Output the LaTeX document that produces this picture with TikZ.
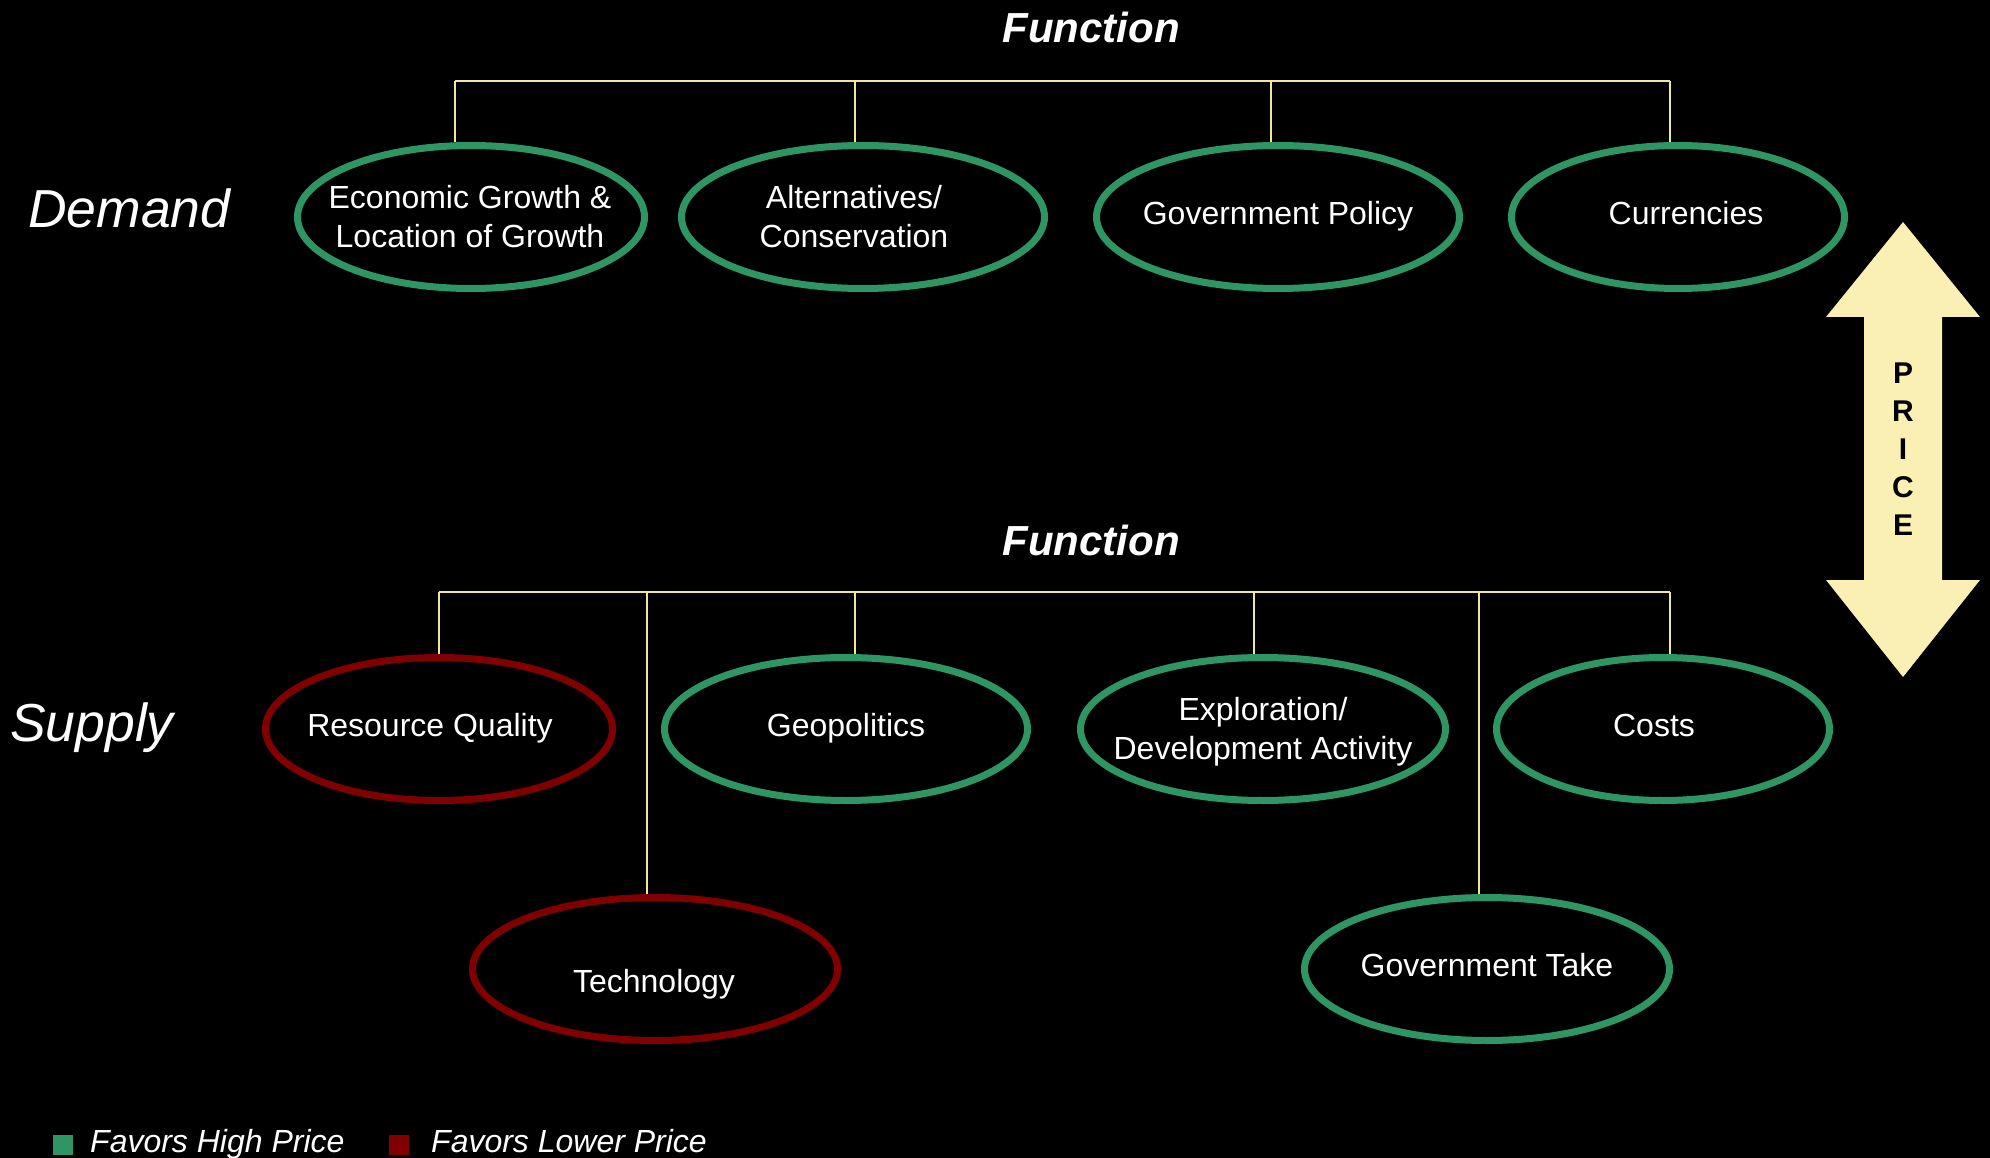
\documentclass[tikz,border=0pt]{standalone}
\usepackage{fontspec}
\setmainfont{Liberation Sans}
\usetikzlibrary{shapes.geometric}

\definecolor{favhigh}{RGB}{46,150,98}
\definecolor{favlow}{RGB}{128,0,0}
\definecolor{linkline}{RGB}{240,230,160}
\definecolor{pricefill}{RGB}{250,240,180}

\begin{document}
\begin{tikzpicture}[x=1pt,y=-1pt,
    factor/.style={ellipse,draw,line width=7pt,inner sep=0pt,
        minimum width=347pt,minimum height=143pt},
    highfactor/.style={factor,draw=favhigh},
    lowfactor/.style={factor,draw=favlow},
    lbl/.style={text=white,inner sep=0pt,align=center,font=\fontsize{32}{39}\selectfont},
    link/.style={draw=linkline,line width=2pt},
    side/.style={text=white,inner sep=0pt,anchor=base west,font=\fontsize{53.5}{60}\selectfont\itshape},
    func/.style={text=white,inner sep=0pt,anchor=base,font=\fontsize{42}{50}\selectfont\bfseries\itshape},
    keybox/.style={minimum size=20pt,inner sep=0pt},
    keytext/.style={text=white,inner sep=0pt,anchor=base west,font=\fontsize{32}{38}\selectfont\itshape},
    ]
    \fill[black] (0,0) rectangle (1990,1158);
    \useasboundingbox (0,0) rectangle (1990,1158);

    % demand side
    \node[side] (demand) at (28,228) {Demand};
    \node[func] (dfunc) at (1091,43) {Function};
    \node[highfactor] (econ) at (471,217) {};
    \node[highfactor,minimum width=363pt] (alt) at (863,217) {};
    \node[highfactor,minimum width=363pt] (policy) at (1278,217) {};
    \node[highfactor,minimum width=333pt] (curr) at (1678,217) {};
    \node[lbl] (econtext) at (470,217) {Economic Growth \&\\Location of Growth};
    \node[lbl] (alttext) at (854,217) {Alternatives/\\Conservation};
    \node[lbl] (policytext) at (1278,216) {Government Policy};
    \node[lbl] (currtext) at (1686,213) {Currencies};

    \coordinate (d1) at (455,81);
    \coordinate (d2) at (855,81);
    \coordinate (d3) at (1271,81);
    \coordinate (d4) at (1670,81);
    \draw[link] (d1) -- (d4);
    \foreach \c/\n in {d1/econ,d2/alt,d3/policy,d4/curr}
        \draw[link] (\c) -- (\c |- \n.north);

    % supply side
    \node[side] (supply) at (10,741) {Supply};
    \node[func] (sfunc) at (1091,555) {Function};
    \node[lowfactor] (resq) at (439,729) {};
    \node[highfactor,minimum width=363pt] (geo) at (846,729) {};
    \node[highfactor,minimum width=365pt] (explo) at (1263,729) {};
    \node[highfactor,minimum width=333pt] (costs) at (1663,729) {};
    \node[lowfactor,minimum width=365pt] (tech) at (655,969) {};
    \node[highfactor,minimum width=365pt] (govtake) at (1487,969) {};
    \node[lbl] (resqtext) at (430,728) {Resource Quality};
    \node[lbl] (geotext) at (846,728) {Geopolitics};
    \node[lbl] (explotext) at (1263,731.5) {Exploration/\\Development Activity};
    \node[lbl] (coststext) at (1654,725) {Costs};
    \node[lbl] (techtext) at (654,984) {Technology};
    \node[lbl] (govtaketext) at (1487,965) {Government Take};

    \coordinate (s1) at (439,592);
    \coordinate (s2) at (647,592);
    \coordinate (s3) at (855,592);
    \coordinate (s4) at (1254,592);
    \coordinate (s5) at (1479,592);
    \coordinate (s6) at (1670,592);
    \draw[link] (s1) -- (s6);
    \foreach \c/\n in {s1/resq,s2/tech,s3/geo,s4/explo,s5/govtake,s6/costs}
        \draw[link] (\c) -- (\c |- \n.north);

    % price arrow
    \coordinate (pc) at (1903,449.5);
    \fill[pricefill] (1903,222) -- (1980,317) -- (1942,317) -- (1942,580) -- (1980,580)
        -- (1903,677) -- (1826,580) -- (1864,580) -- (1864,317) -- (1826,317) -- cycle;
    \node[align=center,inner sep=0pt,font=\fontsize{30}{38}\selectfont\bfseries] (price) at (pc) {P\\R\\I\\C\\E};

    % legend
    \node[keybox,fill=favhigh] (hikey) at (62.5,1144.5) {};
    \node[keytext] (hitext) at (90,1152) {Favors High Price};
    \node[keybox,fill=favlow] (lokey) at (399,1144.5) {};
    \node[keytext] (lotext) at (431,1152) {Favors Lower Price};
\end{tikzpicture}
\end{document}
